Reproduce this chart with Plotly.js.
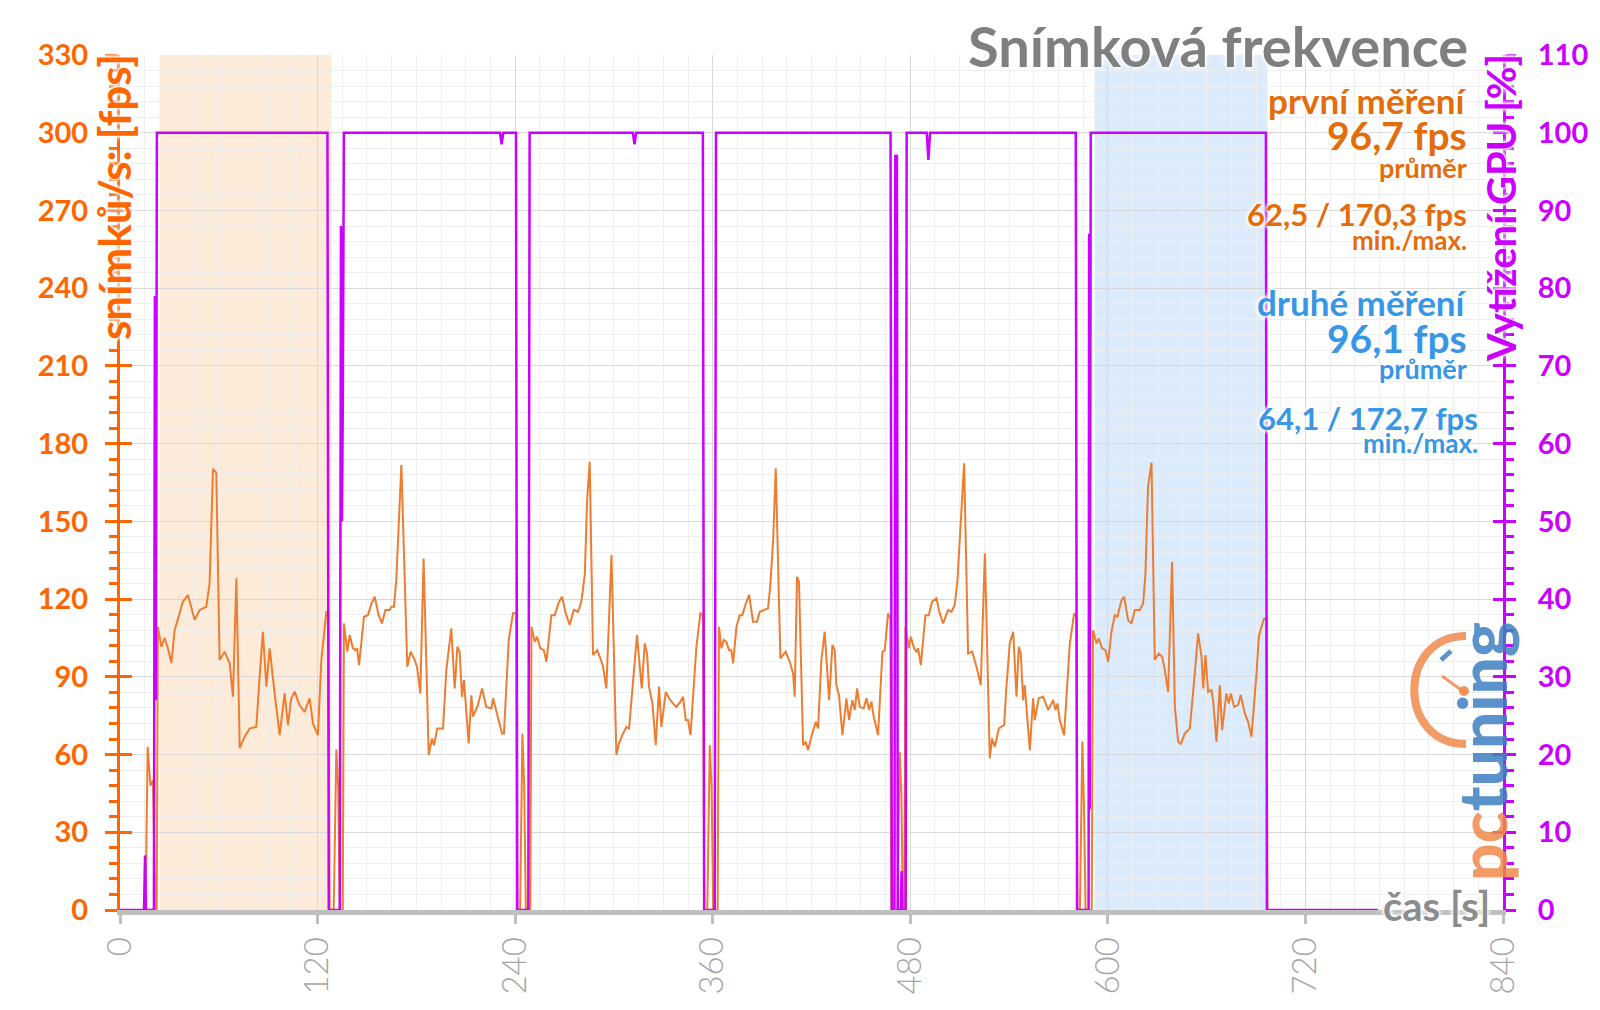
<!DOCTYPE html>
<html><head><meta charset="utf-8">
<script src="https://cdn.plot.ly/plotly-3.0.1.min.js"></script>
<style>html,body{margin:0;padding:0;background:#fff}#chart{width:1600px;height:1010px}</style>
</head><body><div id="chart"></div>
<script>
// ---- data: FPS [time s, fps] ----
const fpsLead = [[0,0],[15.5,0],[16.8,63],[18.5,48],[20,50],[21.5,0],[22.3,0]];
const fpsRun1 = [[23,109.3],[25.1,101.6],[27.1,105],[29.1,101],[31.2,95.3],[33.2,108],[36.2,114.6],[38.2,119],[41.3,121.6],[45.3,112],[48.4,115.8],[52.4,117],[54.4,126],[56.5,170.3],[58.5,168.6],[60.5,96.5],[63.5,99.7],[66.6,95.3],[68.6,82.3],[70.7,128],[72.7,62.5],[75.7,66.9],[78.7,70],[82.8,70.7],[84.8,90],[86.8,107.4],[88.9,86.2],[90.9,101],[93.9,83.7],[97,67.5],[100,83.7],[102,71.4],[104,81.7],[106.1,84.3],[109,79.1],[112.1,76.5],[115.2,81.7],[117.2,72],[120.2,67.5],[122.3,96.5],[125.3,115],[126.5,115]];
const fpsGap1 = [[127.3,0],[129.8,0],[131.4,62],[132.5,48],[133.5,0],[135.3,0]];
const fpsRun2 = [[136,110.6],[138.1,99.7],[139.5,106.1],[141.5,101],[142.9,100.3],[144,101],[145.2,94.5],[148.2,113.2],[150.6,113.8],[152.7,118.3],[154.7,120.9],[157.1,113.8],[159.1,110.6],[161.2,115.8],[163.8,115.8],[164.8,117],[166.4,117],[167.8,127.3],[170.9,171.7],[174.5,93.9],[176.5,99.7],[178.6,97.1],[180.4,93.9],[182.4,83.6],[184.4,135.7],[187.5,59.8],[189.5,66.2],[190.7,63.6],[192.7,70.1],[196.2,70.1],[198.2,92.6],[201.2,108.7],[203.3,85.5],[204.9,101.6],[206.3,99.7],[207.7,82.3],[208.9,88.7],[211.8,64.3],[213.4,82.9],[214.4,74.6],[217.4,79.1],[219.9,85.5],[222.5,78.4],[225.6,77.8],[226.6,81.7],[228,78.4],[230,72.6],[232,68.1],[233.2,68.1],[236.1,104.2],[238.7,114.5],[240.7,114.5]];
const fpsGap2 = [[241.3,0],[243,0],[244.4,68],[245.5,48],[246.5,0],[249.2,0]];
const fpsRun3 = [[249.9,109.3],[251.9,103.5],[253.3,105.5],[255.3,101],[257.4,100.3],[259,95.8],[262,113.8],[264,113.8],[266.7,119],[268.5,120.9],[270.7,114.5],[273.1,110],[275.6,115.8],[278.2,115.1],[280.2,119],[282.3,129.3],[283.7,158.2],[285.3,173],[287.3,98.4],[289.8,100.3],[291.8,97.1],[293.4,93.9],[295.4,85.5],[298.5,137],[301.5,59.8],[303.1,64.3],[305.1,67.5],[307.6,70.7],[309.2,70.1],[311.6,88.7],[314,106.1],[316.9,85.5],[318.7,102.9],[320.1,99],[321.3,86.2],[323.4,79.7],[325.4,63.6],[327.4,86.2],[328.8,70.7],[331.5,84.2],[333.5,81.7],[335.9,79.7],[338,78.4],[340.4,80.4],[342,82.3],[343.6,73.3],[345,73.3],[346.5,67.5],[348.5,86.8],[350.1,101.6],[352.5,114.5],[354.2,113.8]];
const fpsGap3 = [[354.8,0],[356.7,0],[358.2,63.6],[359.3,48],[360.3,0],[363,0]];
const fpsRun4 = [[363.8,109.3],[365.3,101],[366.7,104.2],[368.3,103.5],[369.9,100.3],[371.3,100.3],[372.4,95.2],[374.4,109.3],[376.4,113.8],[378,113.8],[380.1,118.3],[382.1,121.6],[384.5,111.3],[386.9,111.3],[388.6,115.1],[392.6,116.4],[393.6,116.4],[395,125.4],[396.7,142.8],[398.3,170.5],[401.1,97.1],[404.3,99.7],[406.8,95.8],[408.8,91.3],[409.8,82.3],[411.2,128.6],[412.4,126.7],[414.9,63.6],[416.5,64.9],[417.9,61.7],[419.9,66.9],[422.6,72.6],[424,70.1],[426,96.5],[428,107.4],[430.7,81],[432.7,102.3],[434.1,100.3],[435.1,86.8],[436.7,82.9],[438.8,67.5],[441.2,81.7],[442.8,73.3],[444.8,81],[446.3,77.2],[447.7,85.5],[449.3,78.4],[451.7,77.8],[453.4,81.7],[455,77.2],[456.4,80.4],[457.8,74.6],[460.4,67.5],[463.1,99.7],[464.5,100.3],[466.5,114.5],[467.9,112.5]];
const fpsGap4 = [[468.5,0],[472.2,0],[473.6,61],[474.6,45],[475.5,0],[476.4,0]];
const fpsRun5 = [[477.1,109.3],[479.1,101],[480.3,105.5],[482.3,101],[483.7,99.7],[484.8,101],[486.4,94.5],[489.2,113.8],[491.2,113.8],[493.3,119],[495.9,120.3],[497.9,114.5],[499.9,110.6],[503,115.8],[505,115.1],[507,117.7],[508.6,126.7],[512.7,172.4],[515.1,99],[517.6,99.7],[520.2,93.9],[522.8,86.8],[525.3,137.6],[528.3,58.5],[529.7,66.2],[531.3,63],[533.8,70.1],[537,71.4],[538.4,86.2],[540.4,102.9],[542.5,107.4],[544.5,82.3],[545.9,101.6],[547.1,99],[548.5,81],[549.5,86.8],[552.6,61.7],[554.6,81.7],[555.6,73.3],[558,81.7],[560.7,82.3],[563.7,77.2],[566.8,81],[568.2,77.2],[569.4,79.7],[570.8,73.3],[573.4,67.5],[576.9,102.9],[579.5,114.5],[580.9,113.2]];
const fpsGap5 = [[581.5,0],[583,0],[584.5,65],[585.5,40],[586.5,0],[590.2,0]];
const fpsRun6 = [[591,108],[593.1,102.9],[594.5,104.8],[596.5,101],[598.5,100.3],[600.2,95.8],[602.2,107.4],[604.2,113.8],[605.8,113.2],[608.3,119.6],[609.9,120.9],[612.3,111.9],[614.3,110.6],[616.4,115.8],[619.4,115.8],[621.4,118.3],[622.8,129.3],[624.4,163.4],[626.5,172.7],[628.5,96.5],[630.9,99],[633,97.7],[634.6,92.6],[636.6,84.2],[639,134.4],[640.7,78.4],[642.7,64.9],[644.3,64.1],[646.7,68.1],[649.8,70.1],[652.8,91.3],[654.8,106.8],[656.9,97.7],[657.9,85.5],[659.3,98.4],[660.9,84.2],[662.9,84.9],[663.9,81],[666,64.9],[668,86.8],[669.4,69.4],[672,83.6],[673.5,79.7],[674.7,83.6],[676.7,78.4],[679.1,79.1],[680.7,83],[682.2,78.4],[683.2,75.9],[685.2,72.6],[687.2,66.9],[690.3,91.3],[691.7,105.5],[693.3,109.3],[694.9,112.5],[696.3,112.5]];
const fpsTail = [[697,0],[764,0]];

// ---- data: GPU load [time s, %] ----
const gpuLead = [[0,0],[14.6,0],[15.2,7],[15.8,0],[20.6,0],[21.2,79],[21.8,27],[22.4,100]];
const gpuRun1 = [[126,100],[126.8,0]];
const gpuGap1 = [[133.5,0],[134.2,88],[134.8,50],[135.3,64],[136,100]];
const gpuRun2 = [[230.8,100],[231.8,98.5],[232.8,100],[240.5,100],[241.3,0]];
const gpuGap2 = [[248,0],[248.8,100]];
const gpuRun3 = [[311.5,100],[312.5,98.5],[313.5,100],[354,100],[354.8,0]];
const gpuGap3 = [[361.2,0],[362,100]];
const gpuRun4 = [[468,100],[468.8,0]];
const gpuGap4 = [[470.4,0],[470.9,97],[471.9,97],[472.4,0],[474.3,0],[474.7,5],[475.1,0],[477.2,0],[477.8,100]];
const gpuRun5 = [[490,100],[491,96.5],[492,100],[580.5,100],[581.3,0]];
const gpuGap5 = [[588.3,0],[588.6,87],[589,13],[589.6,100]];
const gpuRun6 = [[696,100],[696.6,0],[764,0]];

// highlighted windows [start, end] in seconds
const firstWindow = [24, 128.5];
const secondWindow = [592, 697];

// ticks
const xTickStep = 120, fpsTickStep = 30, gpuTickStep = 10;

// texts
const chartTitle = 'Snímková frekvence';
const firstLabel = ['první měření', '96,7 fps', 'průměr', '62,5 / 170,3 fps', 'min./max.'];
const secondLabel = ['druhé měření', '96,1 fps', 'průměr', '64,1 / 172,7 fps', 'min./max.'];

function flat(groups){const x=[],y=[];groups.forEach(g=>g.forEach(p=>{x.push(p[0]);y.push(p[1]);}));return {x,y};}
const fps = flat([fpsLead,fpsRun1,fpsGap1,fpsRun2,fpsGap2,fpsRun3,fpsGap3,fpsRun4,fpsGap4,fpsRun5,fpsGap5,fpsRun6,fpsTail]);
const gpu = flat([gpuLead,gpuRun1,gpuGap1,gpuRun2,gpuGap2,gpuRun3,gpuGap3,gpuRun4,gpuGap4,gpuRun5,gpuGap5,gpuRun6]);

const ORANGE='#ff6600', ORANGE_TXT='#e46c0a', FPS_LINE='#ed7d31', MAG='#cc00ff', BLUE='#3796e6', GRAY='#7f7f7f';
const FONT='Lato, "Open Sans", sans-serif';
const GLOW='0 0 3px #fff, 0 0 3px #fff, 0 0 5px #fff, 0 0 6px #fff';
const L=120, R=97, T=55, B=100, W=1600, H=1010;
const PW=W-L-R, PH=H-T-B;
const px=p=>(p-L)/PW, py=p=>(H-B-p)/PH;

function lab(text,xp,yp,size,color,xa){return {text,x:px(xp),y:py(yp),xref:'paper',yref:'paper',xanchor:xa||'right',yanchor:'middle',showarrow:false,font:{family:FONT,size,color,weight:700,shadow:GLOW}};}

const annotations=[
  lab(chartTitle,1470,46,56,GRAY),
  lab(firstLabel[0],1469,100,35,ORANGE_TXT),
  lab(firstLabel[1],1469,135,39,ORANGE_TXT),
  lab(firstLabel[2],1469,167,27,ORANGE_TXT),
  lab(firstLabel[3],1469,214,31,ORANGE_TXT),
  lab(firstLabel[4],1469,240,26,ORANGE_TXT),
  lab(secondLabel[0],1469,302,35,BLUE),
  lab(secondLabel[1],1469,338,39,BLUE),
  lab(secondLabel[2],1469,368,27,BLUE),
  lab(secondLabel[3],1480,418,31,BLUE),
  lab(secondLabel[4],1480,443,26,BLUE),
  {text:'snímků/s: [fps]',textangle:-90,x:px(114),y:py(52),xref:'paper',yref:'paper',xanchor:'center',yanchor:'top',showarrow:false,font:{family:FONT,size:44,color:ORANGE,weight:700,shadow:GLOW}},
  {text:'Vytížení GPU [%]',textangle:-90,x:px(1501),y:py(52),xref:'paper',yref:'paper',xanchor:'center',yanchor:'top',showarrow:false,font:{family:FONT,size:40,color:MAG,weight:700,shadow:GLOW}},
  lab('čas [s]',1492,906,40,'#8c8c8c'),
  {text:'<span style="color:#f08a4b">pc</span><span style="color:#3f80c2">tuning</span>',textangle:-90,x:px(1481),y:py(752),xref:'paper',yref:'paper',xanchor:'center',yanchor:'middle',showarrow:false,opacity:0.85,font:{family:FONT,size:66,weight:900}}
];

const shapes=[
  {type:'rect',xref:'x',yref:'paper',x0:firstWindow[0],x1:firstWindow[1],y0:0,y1:1,fillcolor:'#fdebd9',line:{width:0},layer:'below'},
  {type:'rect',xref:'x',yref:'paper',x0:secondWindow[0],x1:secondWindow[1],y0:0,y1:1,fillcolor:'#dcebfb',line:{width:0},layer:'below'},
  {type:'path',xref:'paper',yref:'paper',path:`M ${px(1466)} ${py(636)} C ${px(1397)} ${py(636)} ${px(1397)} ${py(744)} ${px(1466)} ${py(744)}`,line:{color:'rgba(240,138,75,0.85)',width:8},layer:'above'},
  {type:'line',xref:'paper',yref:'paper',x0:px(1442),y0:py(676),x1:px(1464),y1:py(692),line:{color:'rgba(240,138,75,0.85)',width:3},layer:'above'},
  {type:'circle',xref:'paper',yref:'paper',x0:px(1459),y0:py(686),x1:px(1469),y1:py(696),fillcolor:'rgba(240,138,75,0.9)',line:{width:0},layer:'above'},
  {type:'line',xref:'paper',yref:'paper',x0:px(1441),y0:py(660),x1:px(1451),y1:py(651),line:{color:'rgba(63,128,194,0.85)',width:5},layer:'above'}
];

const traces=[
  {x:fps.x,y:fps.y,type:'scatter',mode:'lines',line:{color:FPS_LINE,width:2},xaxis:'x',yaxis:'y',hoverinfo:'skip',showlegend:false},
  {x:[],y:[],type:'scatter',mode:'lines',xaxis:'x',yaxis:'y3',showlegend:false,hoverinfo:'skip'},
  {x:[],y:[],type:'scatter',mode:'lines',xaxis:'x',yaxis:'y4',showlegend:false,hoverinfo:'skip'},
  {x:gpu.x,y:gpu.y,type:'scatter',mode:'lines',line:{color:MAG,width:2.5},xaxis:'x',yaxis:'y2',hoverinfo:'skip',showlegend:false}
];

const layout={
  width:W,height:H,autosize:false,margin:{l:L,r:R,t:T,b:B},
  paper_bgcolor:'#fff',plot_bgcolor:'#fff',showlegend:false,
  xaxis:{range:[0,840],tick0:0,dtick:xTickStep,tickangle:-90,tickfont:{family:FONT,size:33,color:'#a6a6a6',weight:300},
    ticks:'outside',ticklen:9,tickwidth:3,tickcolor:'#bfbfbf',showline:true,linecolor:'#bfbfbf',linewidth:5,
    showgrid:true,gridcolor:'#d9d9d9',gridwidth:1,minor:{dtick:15,showgrid:true,gridcolor:'#efefef'},zeroline:false,layer:'below traces'},
  yaxis:{range:[0,330],tick0:0,dtick:fpsTickStep,tickfont:{family:FONT,size:29,color:ORANGE,weight:700},
    ticks:'outside',ticklen:12,tickwidth:3,tickcolor:ORANGE,showline:true,linecolor:ORANGE,linewidth:3,
    showgrid:true,gridcolor:'#d9d9d9',minor:{dtick:6,ticks:'outside',ticklen:8,tickwidth:3,tickcolor:ORANGE,showgrid:true,gridcolor:'#efefef'},
    zeroline:false,ticklabelstandoff:11},
  yaxis3:{overlaying:'y',side:'left',range:[0,330],tick0:0,dtick:fpsTickStep,ticks:'inside',ticklen:12,tickwidth:3,tickcolor:ORANGE,
    showticklabels:false,showgrid:false,showline:false,zeroline:false},
  yaxis2:{overlaying:'y',side:'right',range:[0,110],tick0:0,dtick:gpuTickStep,tickfont:{family:FONT,size:29,color:MAG,weight:700},
    ticks:'outside',ticklen:10,tickwidth:3,tickcolor:MAG,showline:true,linecolor:MAG,linewidth:3,showgrid:false,zeroline:false,
    minor:{dtick:2,ticks:'outside',ticklen:8,tickwidth:3,tickcolor:MAG},ticklabelstandoff:16},
  yaxis4:{overlaying:'y',side:'right',range:[0,110],tick0:0,dtick:gpuTickStep,ticks:'inside',ticklen:10,tickwidth:3,tickcolor:MAG,
    showticklabels:false,showgrid:false,showline:false,zeroline:false},
  annotations,shapes
};
Plotly.newPlot('chart',traces,layout,{staticPlot:true,displayModeBar:false});
</script></body></html>
